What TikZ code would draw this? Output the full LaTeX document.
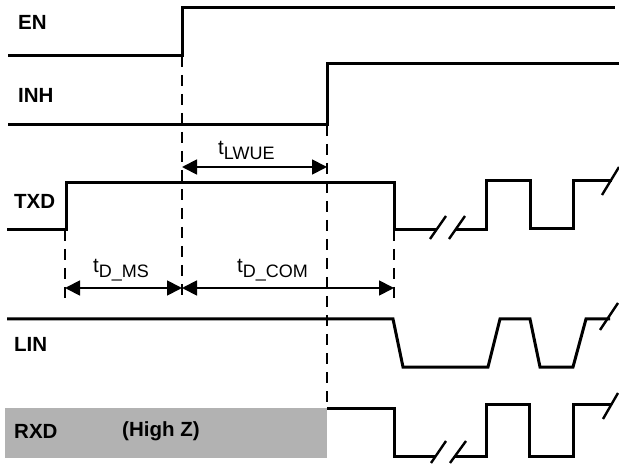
\documentclass[tikz,border=0pt]{standalone}
\usepackage{fontspec}
\setmainfont{Liberation Sans}
\usetikzlibrary{arrows.meta}
\tikzset{
  signal/.style={line width=3pt, line join=miter},
  breakmark/.style={line width=2.4pt},
  marker/.style={line width=2pt, dash pattern=on 11pt off 8pt},
  span/.style={{Triangle[length=15pt,width=15pt]}-{Triangle[length=15pt,width=15pt]}, line width=1.8pt},
  siglabel/.style={font=\fontsize{20.5}{24}\selectfont\bfseries, anchor=west, inner sep=0pt},
  delaylabel/.style={font=\fontsize{20.5}{22}\selectfont, anchor=base west, inner sep=0pt}
}
\newcommand{\tdelay}[1]{t\raisebox{-4.5pt}{\fontsize{18}{18}\selectfont #1}}
\begin{document}
\begin{tikzpicture}[x=1pt,y=-1pt]
\useasboundingbox (0,0) rectangle (619,465);

% high Z area of RXD
\fill[black!30] (5,408) rectangle (327,458);

% signal names
\node[siglabel] (en) at (18,22) {EN};
\node[siglabel] (inh) at (18,95) {INH};
\node[siglabel] (txd) at (14,201) {TXD};
\node[siglabel] (lin) at (14,344) {LIN};
\node[siglabel] (rxd) at (14,431) {RXD};
\node[siglabel] (highz) at (122,431) {(High Z)};

% time marks
\coordinate (ms0) at (65,230);
\coordinate (ms1) at (65,302);
\coordinate (en0) at (182,56);
\coordinate (en1) at (182,302);
\coordinate (inh0) at (327,125);
\coordinate (inh1) at (327,408);
\coordinate (com0) at (394,230);
\coordinate (com1) at (394,302);
\draw[marker]
(ms0) -- (ms1)
(en0) -- (en1)
(inh0) -- (inh1)
(com0) -- (com1);

% delays
\coordinate (lwueA) at (182,167);
\coordinate (lwueB) at (327,167);
\coordinate (msA) at (65,288);
\coordinate (msB) at (182,288);
\coordinate (comB) at (394,288);
\draw[span] (lwueA) -- (lwueB);
\draw[span] (msA) -- (msB);
\draw[span] (msB) -- (comB);
\node[delaylabel] (tlwue) at (218,155) {\tdelay{LWUE}};
\node[delaylabel] (tdms) at (93,273) {\tdelay{D\_MS}};
\node[delaylabel] (tdcom) at (237,273) {\tdelay{D\_COM}};

% EN and INH
\draw[signal] (8,56) -- (182,56) -- (182,8) -- (615,8);
\draw[signal] (8,125) -- (327,125) -- (327,64) -- (619,64);

% TXD
\draw[signal] (7,230) -- (66,230) -- (66,182.5) -- (394,182.5) -- (394,230) -- (436,230);
\draw[signal] (455,230) -- (486,230) -- (486,181) -- (530,181) -- (530,229) -- (573,229) -- (573,181) -- (612,181);
\draw[breakmark]
(430,239) -- (446,216)
(449,239) -- (465,216)
(602,195) -- (619,167);

% LIN
\draw[signal] (7,319) -- (393,319) -- (403,367) -- (488,367) -- (500,319) -- (530,319) -- (540,367) -- (573,367) -- (586,319) -- (610,319);
\draw[breakmark] (600,330) -- (618,303);

% RXD
\draw[signal] (327,408) -- (394,408) -- (394,456) -- (436,456);
\draw[signal] (455,456) -- (486,456) -- (486,404) -- (529,404) -- (529,456) -- (573,456) -- (573,404) -- (612,404);
\draw[breakmark]
(431,463) -- (446,441)
(450,463) -- (466,441)
(603,419) -- (618,393);
\end{tikzpicture}
\end{document}
